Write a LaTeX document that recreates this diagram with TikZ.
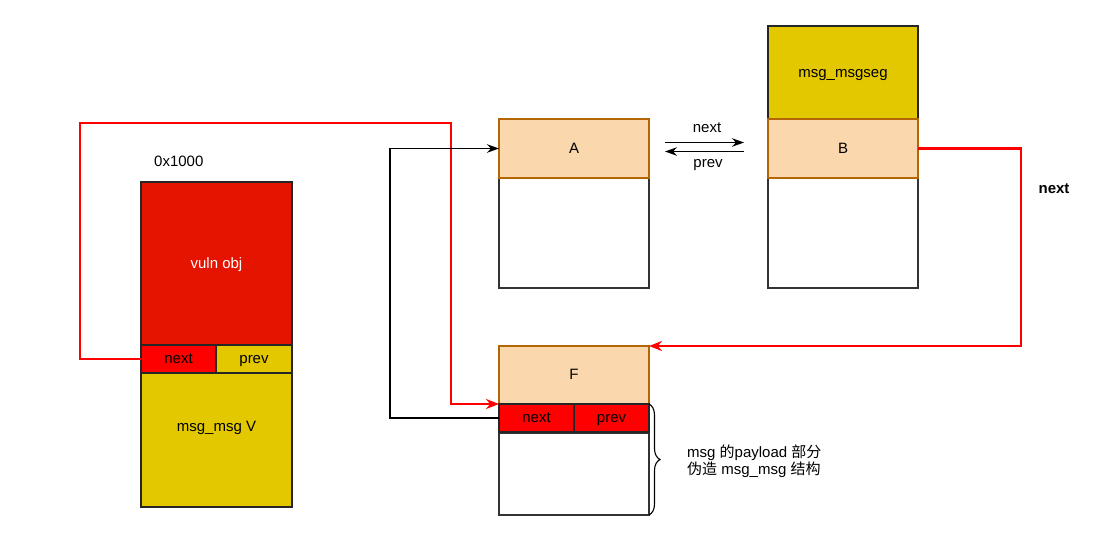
\documentclass[tikz,border=0pt]{standalone}
\usepackage{fontspec}
\setmainfont{Liberation Sans}
\newfontfamily\cjk{Noto Sans CJK SC}
\usetikzlibrary{arrows.meta,decorations.pathreplacing,calc}
\definecolor{vred}{HTML}{E51400}
\definecolor{pred}{HTML}{FF0000}
\definecolor{yel}{HTML}{E3C800}
\definecolor{ora}{HTML}{FAD7AC}
\definecolor{orast}{HTML}{B46504}
\definecolor{redline}{HTML}{FF0000}
\begin{document}
\begin{tikzpicture}[x=1pt,y=-1pt,
  font=\fontsize{15}{17.5}\selectfont,
  box/.style={draw=black!85, line width=1.2pt, rectangle, inner sep=0pt, outer sep=0pt, anchor=north west, text height=12pt, text depth=3pt},
  orabox/.style={box, draw=orast, fill=ora, minimum width=150pt, minimum height=59pt},
  whitebox/.style={box, draw=black!80, fill=white, minimum width=150pt},
  cell/.style={box, fill=pred, minimum width=75pt, minimum height=28pt},
  redlink/.style={draw=redline, line width=2.5pt, -{Stealth[length=13pt,width=10pt]}},
  blacklink/.style={draw=black, line width=1.1pt, -{Stealth[length=12pt,width=8.5pt]}},
  lbl/.style={inner sep=0pt, text height=12pt, text depth=3pt}
]
\useasboundingbox (0,0) rectangle (1105,549);

% left block
\node[box, fill=vred, minimum width=151pt, minimum height=163pt, text=white] (vuln) at (141,182) {vuln obj};
\node[cell, minimum width=75pt] (vnext) at (141,345) {next};
\node[box, fill=yel, minimum width=76pt, minimum height=28pt] (vprev) at (216,345) {prev};
\node[box, fill=yel, minimum width=151pt, minimum height=134pt] (msgv) at (141,373) {};
\node[lbl] (msgvlabel) at (216.5,427) {msg\_msg V};
\node[lbl, anchor=west] (addr) at (154,162) {0x1000};

% A block
\node[whitebox, minimum height=110pt] (Abody) at (499,178) {};
\node[orabox] (A) at (499,119) {A};

% B block
\node[box, fill=yel, minimum width=150pt, minimum height=93pt] (seg) at (768,26) {msg\_msgseg};
\node[whitebox, minimum height=110pt] (Bbody) at (768,178) {};
\node[orabox] (B) at (768,119) {B};

% F block
\node[whitebox, minimum height=82pt] (Fbody) at (499,433) {};
\node[orabox, minimum height=58pt] (F) at (499,346) {F};
\node[cell] (fnext) at (499,404) {next};
\node[cell] (fprev) at (574,404) {prev};

% next / prev between A and B
\coordinate (n1) at ($(A.east)+(16,-6)$);
\coordinate (n2) at ($(B.west)+(-24,-6)$);
\coordinate (p1) at ($(B.west)+(-24,3)$);
\coordinate (p2) at ($(A.east)+(16,3)$);
\draw[line width=1.1pt, -{Stealth[length=12pt,width=8.5pt]}] (n1) -- (n2);
\draw[line width=1.1pt, -{Stealth[length=12pt,width=8.5pt]}] (p1) -- (p2);
\node[lbl] (lnext) at (707,128) {next};
\node[lbl] (lprev) at (708,163) {prev};

% links
\draw[redlink] (vnext.west) -- ++(-61,0) |- (451,123) |- (fnext.north west);
\draw[blacklink] (fnext.west) -- ++(-109,0) |- (A.west);
\draw[redlink] (B.east) -- ++(103,0) |- (F.north east);
\node[lbl, font=\fontsize{15}{17.5}\selectfont\bfseries] (bnext) at (1054,189) {next};

% brace
\draw[line width=1.1pt, decorate, decoration={brace, amplitude=11pt, aspect=0.5}] (fprev.north east) -- (Fbody.south east);
\node[inner sep=0pt, anchor=west, align=left] (note) at (687,461) {msg {\cjk 的}payload {\cjk 部分}\\{\cjk 伪造} msg\_msg {\cjk 结构}};
\end{tikzpicture}
\end{document}
